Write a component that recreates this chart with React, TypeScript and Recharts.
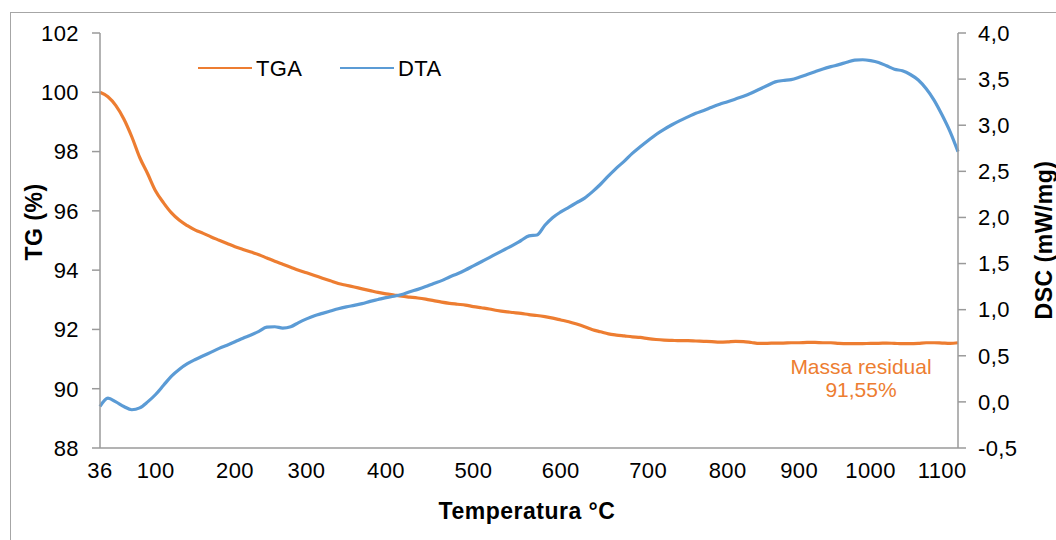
import React from 'react';
import { LineChart, Line, XAxis, YAxis, Legend, LabelList } from 'recharts';

// Temperature categories (°C), one per measurement row
const temperatures = [
  36, 45, 54, 63, 73, 82, 91, 100,
  110, 120, 130, 140, 150, 160, 170, 180, 190, 200,
  211, 222, 233, 244, 256, 267, 278, 289, 300,
  310, 320, 330, 340, 350, 360, 370, 380, 390, 400,
  409, 418, 427, 436, 445, 455, 464, 473, 482, 491, 500,
  509, 518, 527, 536, 545, 555, 564, 573, 582, 591, 600,
  609, 618, 627, 636, 645, 655, 664, 673, 682, 691, 700,
  710, 720, 730, 740, 750, 760, 770, 780, 790, 800,
  811, 822, 833, 844, 856, 867, 878, 889, 900,
  911, 922, 933, 944, 956, 967, 978, 989, 1000,
  1011, 1022, 1033, 1044, 1056, 1067, 1078, 1089, 1100,
  1106, 1112,
];

// Thermogravimetric mass (%)
const tgaValues = [
  100.0, 99.85, 99.55, 99.1, 98.5, 97.8, 97.25, 96.67,
  96.27, 95.93, 95.68, 95.5, 95.35, 95.24, 95.12, 95.01, 94.9, 94.79,
  94.7, 94.61, 94.52, 94.41, 94.3, 94.2, 94.1, 94.0, 93.91,
  93.82, 93.73, 93.64, 93.55, 93.49, 93.43, 93.37, 93.31, 93.25, 93.2,
  93.16, 93.12, 93.09, 93.06, 93.02, 92.97, 92.92, 92.88, 92.85, 92.82, 92.77,
  92.73, 92.69, 92.64, 92.6, 92.57, 92.54, 92.5, 92.47, 92.43, 92.38, 92.32,
  92.26, 92.18, 92.09, 91.99, 91.92, 91.85, 91.81, 91.78, 91.75, 91.73, 91.69,
  91.66, 91.64, 91.63, 91.62, 91.62, 91.61, 91.6, 91.59, 91.57, 91.58,
  91.6, 91.59, 91.56, 91.53, 91.53, 91.54, 91.54, 91.55, 91.55,
  91.56, 91.56, 91.55, 91.55, 91.53, 91.52, 91.52, 91.52, 91.53,
  91.53, 91.54, 91.53, 91.52, 91.52, 91.53, 91.55, 91.55, 91.54,
  91.53, 91.55,
];

// Differential signal (mW/mg)
const dtaValues = [
  -0.05, 0.04, 0.0, -0.05, -0.085, -0.065, 0.0, 0.08,
  0.18, 0.28, 0.355, 0.415, 0.46, 0.5, 0.54, 0.58, 0.615, 0.652,
  0.69, 0.725, 0.765, 0.81, 0.815, 0.8, 0.815, 0.86, 0.9,
  0.935, 0.96, 0.985, 1.01, 1.03, 1.047, 1.065, 1.09, 1.11, 1.13,
  1.145, 1.165, 1.195, 1.22, 1.25, 1.285, 1.315, 1.355, 1.39, 1.43, 1.475,
  1.52, 1.565, 1.61, 1.655, 1.7, 1.75, 1.8, 1.81, 1.915, 2.0, 2.06,
  2.11, 2.16, 2.21, 2.28, 2.36, 2.45, 2.535, 2.61, 2.695, 2.767, 2.835,
  2.9, 2.955, 3.005, 3.05, 3.09, 3.13, 3.16, 3.195, 3.227, 3.255,
  3.285, 3.315, 3.35, 3.39, 3.43, 3.47, 3.485, 3.495, 3.52,
  3.55, 3.58, 3.61, 3.635, 3.657, 3.683, 3.706, 3.71, 3.7,
  3.68, 3.645, 3.607, 3.59, 3.55, 3.49, 3.395, 3.27, 3.11,
  2.93, 2.713,
];

const temperatureTicks = [36, 100, 200, 300, 400, 500, 600, 700, 800, 900, 1000, 1100];
const tgTicks = [88, 90, 92, 94, 96, 98, 100, 102];
const dscTicks = [-0.5, 0, 0.5, 1, 1.5, 2, 2.5, 3, 3.5, 4];
const seriesOrder = ['TGA', 'DTA'];

const rows = temperatures.map((temp, i) => ({ temp, tga: tgaValues[i], dta: dtaValues[i] }));

const ORANGE = '#ED7D31';
const BLUE = '#5B9BD5';
const AXIS = '#9a9a9a';
const FONT = '"Liberation Sans", Arial, Helvetica, sans-serif';

const commaDecimal = (v: number, digits: number) => v.toFixed(digits).replace('.', ',');

const tickStyle = { fontSize: 22, fill: '#000', fontFamily: FONT, letterSpacing: 0.4 };

function LegendContent(props: any) {
  const items = [...(props.payload || [])].sort(
    (a: any, b: any) => seriesOrder.indexOf(a.value) - seriesOrder.indexOf(b.value)
  );
  return (
    <div style={{ position: 'relative', width: 1056, height: 90, fontFamily: FONT }}>
      {items.map((p: any, i: number) => (
        <React.Fragment key={p.value}>
          <div
            style={{
              position: 'absolute',
              left: 198 + i * 142,
              top: 67,
              width: 54,
              height: 2,
              background: p.color,
            }}
          />
          <div
            style={{
              position: 'absolute',
              left: 256 + i * 142,
              top: 57,
              fontSize: 22,
              letterSpacing: 0.4,
              lineHeight: '24px',
              color: '#000',
              whiteSpace: 'nowrap',
            }}
          >
            {p.value}
          </div>
        </React.Fragment>
      ))}
    </div>
  );
}

// Residual mass note, anchored to the final TGA point
function ResidualLabel(props: any) {
  const { index, value } = props;
  if (index !== rows.length - 1) return null;
  const x = props.x ?? props.viewBox?.x;
  const y = props.y ?? props.viewBox?.y;
  return (
    <g fontFamily={FONT} fontSize={21} fill={ORANGE} textAnchor="middle">
      <text x={x - 97} y={y + 31}>Massa residual</text>
      <text x={x - 97} y={y + 54}>{`${commaDecimal(value, 2)}%`}</text>
    </g>
  );
}

const titleStyle: React.CSSProperties = {
  position: 'absolute',
  fontFamily: FONT,
  fontWeight: 'bold',
  fontSize: 23,
  letterSpacing: 0.5,
  lineHeight: '23px',
  color: '#000',
  whiteSpace: 'nowrap',
};

export default function App() {
  return (
    <div
      style={{
        position: 'absolute',
        left: 0,
        top: 0,
        width: 1056,
        height: 540,
        overflow: 'hidden',
        background: '#fff',
        fontFamily: FONT,
      }}
    >
      <div
        style={{
          position: 'absolute',
          left: 10,
          top: 12,
          width: 1100,
          height: 600,
          border: '1px solid #a6a6a6',
        }}
      />
      <div style={{ position: 'absolute', left: 0, top: 0 }}>
        <LineChart
          width={1056}
          height={540}
          data={rows}
          margin={{ top: 33, right: 18, bottom: 32, left: 20 }}
        >
          <XAxis
            dataKey="temp"
            type="category"
            allowDuplicatedCategory={false}
            ticks={temperatureTicks}
            interval={0}
            tickLine={false}
            tickSize={6}
            tickMargin={8}
            height={60}
            axisLine={{ stroke: AXIS, strokeWidth: 1.5 }}
            tick={tickStyle}
          />
          <YAxis
            yAxisId="tg"
            orientation="left"
            width={80}
            domain={[88, 102]}
            ticks={tgTicks}
            interval={0}
            tickSize={8}
            tickMargin={13}
            axisLine={{ stroke: AXIS, strokeWidth: 1.5 }}
            tickLine={{ stroke: AXIS, strokeWidth: 1.5 }}
            tick={tickStyle}
            allowDataOverflow
          />
          <YAxis
            yAxisId="dsc"
            orientation="right"
            width={80}
            domain={[-0.5, 4]}
            ticks={dscTicks}
            interval={0}
            tickSize={8}
            tickMargin={12}
            tickFormatter={(v: number) => commaDecimal(v, 1)}
            axisLine={{ stroke: AXIS, strokeWidth: 1.5 }}
            tickLine={{ stroke: AXIS, strokeWidth: 1.5 }}
            tick={tickStyle}
            allowDataOverflow
          />
          <Legend
            verticalAlign="middle"
            align="center"
            content={<LegendContent />}
            wrapperStyle={{ left: 0, top: 0, width: 1056, height: 90 }}
          />
          <Line
            yAxisId="tg"
            dataKey="tga"
            name="TGA"
            type="monotone"
            stroke={ORANGE}
            strokeWidth={3.2}
            dot={false}
            activeDot={false}
            isAnimationActive={false}
          >
            <LabelList dataKey="tga" content={<ResidualLabel />} />
          </Line>
          <Line
            yAxisId="dsc"
            dataKey="dta"
            name="DTA"
            type="monotone"
            stroke={BLUE}
            strokeWidth={3.2}
            dot={false}
            activeDot={false}
            isAnimationActive={false}
          />
        </LineChart>
      </div>
      <div style={{ ...titleStyle, left: 527, top: 500, transform: 'translateX(-50%)' }}>
        Temperatura °C
      </div>
      <div
        style={{ ...titleStyle, left: 34, top: 222, transform: 'translate(-50%, -50%) rotate(-90deg)' }}
      >
        TG (%)
      </div>
      <div
        style={{ ...titleStyle, left: 1044, top: 240, transform: 'translate(-50%, -50%) rotate(-90deg)' }}
      >
        DSC (mW/mg)
      </div>
    </div>
  );
}
